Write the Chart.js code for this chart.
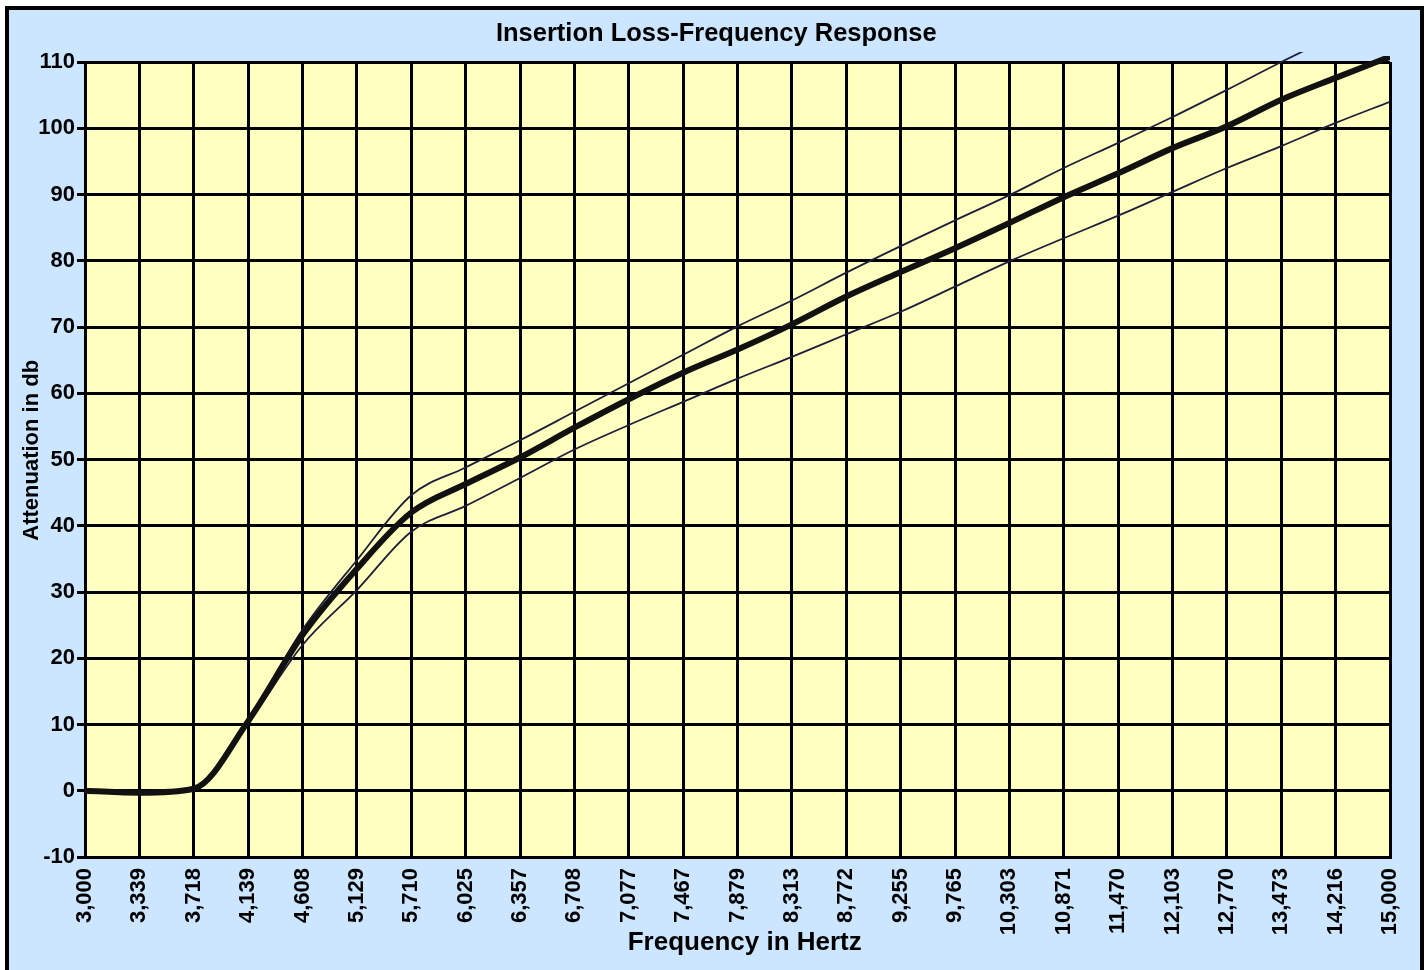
<!DOCTYPE html>
<html>
<head>
<meta charset="utf-8">
<script src="https://cdn.jsdelivr.net/npm/chart.js@4.4.0/dist/chart.umd.min.js"></script>
<style>
  html, body { margin: 0; padding: 0; background: #ffffff; overflow: hidden; }
  #frame {
    position: absolute; left: 5px; top: 6px;
    width: 1411px; height: 1000px;
    border: 4px solid #000; background: #cce6ff;
  }
  #chart { position: absolute; left: 0; top: 0; }
</style>
</head>
<body>
<div id="frame"></div>
<canvas id="chart" width="1428" height="970"></canvas>
<script>
// frequency categories (Hz)
const frequencies = ["3,000", "3,339", "3,718", "4,139", "4,608", "5,129", "5,710", "6,025",
  "6,357", "6,708", "7,077", "7,467", "7,879", "8,313", "8,772", "9,255", "9,765",
  "10,303", "10,871", "11,470", "12,103", "12,770", "13,473", "14,216", "15,000"];

// attenuation (db)
const nominal = [0, -0.3, 0.3, 10.5, 23.5, 33.5, 42, 46.3, 50.3, 54.8, 59.1, 63.1, 66.6,
  70.4, 74.6, 78.3, 81.9, 85.7, 89.6, 93.2, 97, 100.3, 104.3, 107.6, 110.8];
const upperLimit = [0, -0.3, 0.3, 10.8, 24.3, 34.8, 44.6, 48.8, 52.9, 57.2, 61.5, 65.8, 70.1,
  74, 78.2, 82.2, 86.1, 89.9, 94, 97.8, 101.7, 105.8, 110, 114, 118];
const lowerLimit = [0, -0.3, 0.3, 10.2, 22, 30.3, 39.1, 43, 47.2, 51.5, 55.2, 58.7, 62.2,
  65.5, 68.9, 72.3, 76.1, 79.9, 83.4, 86.8, 90.4, 94, 97.3, 100.8, 104];

const yMin = -10, yMax = 110, yStep = 10;

const FONT = "'Liberation Sans', Arial, sans-serif";

// yellow plot background
const plotBackground = {
  id: "plotBackground",
  beforeDraw(chart) {
    const { ctx, chartArea: a } = chart;
    ctx.save();
    ctx.fillStyle = "#ffffbf";
    ctx.fillRect(a.left, a.top, a.right - a.left, a.bottom - a.top);
    ctx.restore();
  }
};

const thinLine = {
  borderColor: "#1e1e3c",
  borderWidth: 1.8,
  pointRadius: 0,
  cubicInterpolationMode: "monotone",
  clip: { left: 0, top: 10, right: 0, bottom: 0 },
  order: 2
};

new Chart(document.getElementById("chart"), {
  type: "line",
  data: {
    labels: frequencies,
    datasets: [
      Object.assign({ label: "Upper", data: upperLimit }, thinLine),
      Object.assign({ label: "Lower", data: lowerLimit }, thinLine),
      {
        label: "Nominal",
        data: nominal,
        borderColor: "#111111",
        borderWidth: 6,
        pointRadius: 0,
        cubicInterpolationMode: "monotone",
        clip: { left: 0, top: 6, right: 0, bottom: 0 },
        order: 1
      }
    ]
  },
  options: {
    responsive: false,
    devicePixelRatio: 1,
    animation: false,
    layout: { padding: { left: 0, right: 38, top: 0, bottom: 0 } },
    plugins: {
      legend: { display: false },
      tooltip: { enabled: false },
      title: {
        display: true,
        // leading spaces nudge the title right, over the plot centre
        text: "      Insertion Loss-Frequency Response",
        color: "#000",
        font: { family: FONT, size: 25.5, weight: "bold", lineHeight: 1.2 },
        padding: { top: 19, bottom: 12.4 }
      }
    },
    scales: {
      x: {
        type: "category",
        offset: false,
        grid: { color: "#000", lineWidth: 3, drawTicks: false },
        border: { color: "#000", width: 3 },
        ticks: {
          color: "#000",
          autoSkip: false,
          minRotation: 90,
          maxRotation: 90,
          padding: 11,
          font: { family: FONT, size: 22, weight: "bold" }
        },
        title: {
          display: true,
          text: "  Frequency in Hertz",
          color: "#000",
          font: { family: FONT, size: 26, weight: "bold", lineHeight: 1.2 },
          padding: { top: 0, bottom: 12 }
        },
        afterFit(scale) { scale.height = 113; }
      },
      y: {
        min: yMin,
        max: yMax,
        grid: { color: "#000", lineWidth: 3, drawTicks: true, tickLength: 8 },
        border: { color: "#000", width: 3 },
        ticks: {
          stepSize: yStep,
          color: "#000",
          padding: 2,
          font: { family: FONT, size: 22, weight: "bold" }
        },
        title: {
          display: true,
          text: "   Attenuation in db",
          color: "#000",
          font: { family: FONT, size: 22, weight: "bold", lineHeight: 1.2 },
          padding: { top: 19, bottom: 0 }
        },
        afterFit(scale) { scale.width = 85; }
      }
    }
  },
  plugins: [plotBackground]
});
</script>
</body>
</html>
